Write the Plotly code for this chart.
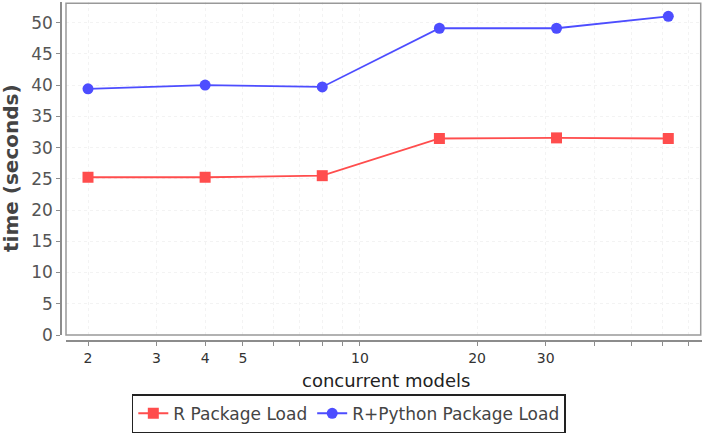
import plotly.graph_objects as go

# Data
models = [2, 4, 8, 16, 32, 62]
r_load = [25.25, 25.25, 25.5, 31.45, 31.55, 31.45]
rpy_load = [39.4, 40.0, 39.7, 49.1, 49.1, 51.0]

x_tickvals = [2, 3, 4, 5, 6, 7, 8, 9, 10, 20, 30, 40, 50, 60, 70]
x_ticktext = ["2", "3", "4", "5", "", "", "", "", "10", "20", "30", "", "", "", ""]
y_tickvals = [0, 5, 10, 15, 20, 25, 30, 35, 40, 45, 50]

RED = "#ff4d4d"
BLUE = "#4d4dff"
AXIS = "#8c8c8c"
FONT = "DejaVu Sans"

fig = go.Figure()
fig.add_trace(go.Scatter(
    x=models, y=r_load, mode="lines+markers", name="R Package Load",
    line=dict(color=RED, width=1.8),
    marker=dict(symbol="square", size=11, color=RED),
))
fig.add_trace(go.Scatter(
    x=models, y=rpy_load, mode="lines+markers", name="R+Python Package Load",
    line=dict(color=BLUE, width=1.8),
    marker=dict(symbol="circle", size=11, color=BLUE),
))

x0 = 5 / 641
y0 = 6 / 339

fig.update_layout(
    width=707, height=434,
    margin=dict(l=61, r=5, t=2, b=93, autoexpand=False),
    paper_bgcolor="white", plot_bgcolor="white",
    font=dict(family=FONT, size=14, color="#444444"),
    showlegend=True,
    legend=dict(
        orientation="h", x=0.449, xanchor="center", y=-0.157, yanchor="top",
        bordercolor="#222222", borderwidth=1.5, font=dict(size=17, color="#444444"),
        itemwidth=30, tracegroupgap=0,
    ),
    xaxis=dict(
        type="log", domain=[x0, 1], anchor="free", position=0,
        range=[0.2445, 1.879],
        tickvals=x_tickvals, ticktext=x_ticktext,
        ticks="outside", ticklen=4, tickwidth=1.2, tickcolor=AXIS,
        showline=True, linecolor=AXIS, linewidth=1.5,
        showgrid=True, gridcolor="#f3f3f3", griddash="dot", gridwidth=1,
        zeroline=False, tickfont=dict(size=14, color="#333333"),
    ),
    yaxis=dict(
        domain=[y0, 1], anchor="free", position=0,
        range=[0, 53.3],
        tickvals=y_tickvals,
        ticks="outside", ticklen=4, tickwidth=1.2, tickcolor=AXIS,
        showline=True, linecolor=AXIS, linewidth=1.5,
        showgrid=True, gridcolor="#f3f3f3", griddash="dot", gridwidth=1,
        zeroline=False, tickfont=dict(size=17, color="#555555"),
    ),
    shapes=[dict(
        type="rect", xref="paper", yref="paper",
        x0=x0, x1=0.998, y0=y0, y1=0.996,
        line=dict(color="#999999", width=1.5), layer="above",
    )],
    annotations=[
        dict(text="concurrent models", xref="paper", yref="paper",
             x=(386 - 61) / 641, y=(341 - 380) / 339, xanchor="center", yanchor="middle",
             showarrow=False, font=dict(size=18, color="#222222")),
        dict(text="<b>time (seconds)</b>", xref="paper", yref="paper",
             x=(11 - 61) / 641, y=(341 - 168) / 339, xanchor="center", yanchor="middle",
             textangle=-90, showarrow=False, font=dict(size=20, color="#444444")),
    ],
)

fig.write_html("out.html", config={"displayModeBar": False},
               post_script="document.body.style.margin='0';")
